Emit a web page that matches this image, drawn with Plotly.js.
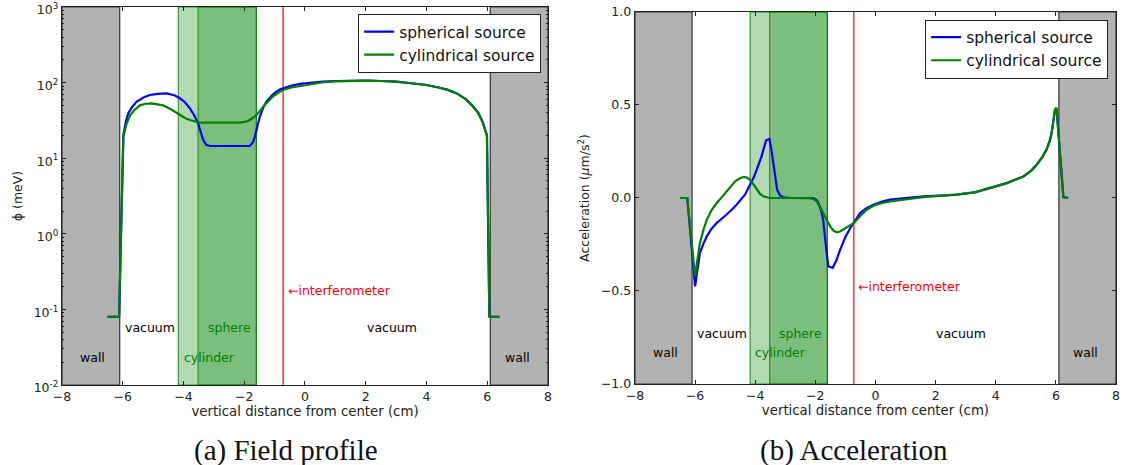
<!DOCTYPE html>
<html>
<head>
<meta charset="utf-8">
<script src="https://cdn.plot.ly/plotly-3.0.1.min.js"></script>
<style>
  html, body { margin: 0; padding: 0; background: #fff; }
  #chart { width: 1125px; height: 465px; }
</style>
</head>
<body>
<div id="chart"></div>
<script>
// ---- field profile phi (meV) vs vertical position (cm) ----
const phiXSpherical = [-6.5, -6.12, -5.98, -5.9, -5.82, -5.7, -5.54, -5.3, -5.11, -4.85, -4.56, -4.3, -4.12, -3.95, -3.79, -3.65, -3.52, -3.44, -3.35, -3.25, -3.13, -2.5, -1.82, -1.72, -1.65, -1.57, -1.49, -1.38, -1.27, -1.1, -0.94, -0.8, -0.61, -0.4, -0.17, 0.2, 0.6, 1.0, 1.5, 2.0, 2.5, 3.0, 3.5, 4.0, 4.4, 4.7, 5.0, 5.3, 5.5, 5.7, 5.85, 5.99, 6.07, 6.4];
const phiSpherical = [0.08, 0.08, 20, 30, 39, 47, 56, 64, 68.6, 71, 72, 68, 62, 55, 45.7, 37, 29, 22, 17.4, 15, 14.5, 14.5, 14.5, 16, 19.3, 26, 35, 46, 56, 67, 76, 82, 87, 92, 96, 100, 103, 105, 106, 106, 105, 103, 98, 93, 86, 80, 72, 60, 50, 40, 30, 20, 0.08, 0.08];

const phiXCylindrical = [-6.5, -6.12, -5.98, -5.88, -5.76, -5.6, -5.43, -5.25, -5.05, -4.85, -4.67, -4.4, -4.12, -3.95, -3.79, -3.6, -3.46, -2.8, -2.14, -1.95, -1.82, -1.7, -1.6, -1.48, -1.38, -1.2, -1.05, -0.88, -0.72, -0.45, -0.17, 0.2, 0.6, 1.0, 1.5, 2.0, 2.5, 3.0, 3.5, 4.0, 4.4, 4.7, 5.0, 5.3, 5.5, 5.7, 5.85, 5.99, 6.07, 6.4];
const phiCylindrical = [0.08, 0.08, 19.3, 28, 37, 44, 50, 52.5, 53, 52, 50, 44, 37, 34, 32, 30.3, 29.5, 29.5, 29.5, 30.5, 32, 34.5, 37, 42, 48, 57, 66, 73, 80, 86, 90, 96, 101, 104, 106, 106, 105, 103, 98, 93, 86, 80, 72, 60, 50, 40, 30, 20, 0.08, 0.08];

// ---- acceleration (um/s^2) vs vertical position (cm) ----
const accXSpherical = [-6.5, -6.26, -6.0, -5.92, -5.84, -5.72, -5.61, -5.45, -5.28, -5.1, -4.95, -4.78, -4.62, -4.48, -4.34, -4.17, -4.05, -3.95, -3.79, -3.64, -3.53, -3.46, -3.4, -3.33, -3.27, -3.18, -3.05, -2.84, -2.07, -1.97, -1.9, -1.82, -1.74, -1.66, -1.57, -1.42, -1.3, -1.18, -1.0, -0.85, -0.72, -0.515, -0.3, -0.07, 0.2, 0.48, 1.0, 1.59, 2.2, 2.7, 3.3, 3.81, 4.37, 4.92, 5.2, 5.36, 5.55, 5.69, 5.8, 5.86, 5.93, 5.97, 6.02, 6.25, 6.41];
const accSpherical = [0, 0, -0.475, -0.37, -0.296, -0.245, -0.206, -0.165, -0.134, -0.11, -0.09, -0.063, -0.036, -0.01, 0.018, 0.072, 0.11, 0.152, 0.224, 0.31, 0.317, 0.26, 0.188, 0.11, 0.045, 0.015, 0.003, 0, -0.001, -0.01, -0.027, -0.06, -0.117, -0.24, -0.367, -0.376, -0.335, -0.28, -0.21, -0.165, -0.135, -0.081, -0.055, -0.036, -0.02, -0.009, 0.0, 0.009, 0.013, 0.018, 0.03, 0.054, 0.08, 0.116, 0.15, 0.179, 0.22, 0.26, 0.31, 0.35, 0.42, 0.475, 0.484, 0.005, 0];

const accXCylindrical = [-6.5, -6.26, -6.0, -5.92, -5.84, -5.72, -5.61, -5.45, -5.28, -5.1, -4.95, -4.8, -4.67, -4.52, -4.39, -4.28, -4.17, -4.05, -3.95, -3.84, -3.73, -3.6, -3.51, -2.18, -2.06, -1.96, -1.85, -1.74, -1.62, -1.51, -1.4, -1.29, -1.18, -1.07, -0.95, -0.85, -0.72, -0.5, -0.29, -0.07, 0.2, 0.48, 1.0, 1.59, 2.2, 2.7, 3.3, 3.81, 4.37, 4.92, 5.2, 5.36, 5.55, 5.69, 5.8, 5.86, 5.93, 5.97, 6.02, 6.25, 6.41];
const accCylindrical = [0, 0, -0.42, -0.32, -0.242, -0.17, -0.117, -0.065, -0.027, 0.006, 0.036, 0.065, 0.09, 0.105, 0.113, 0.11, 0.098, 0.072, 0.045, 0.022, 0.009, 0.002, 0, 0, -0.006, -0.018, -0.045, -0.08, -0.12, -0.152, -0.175, -0.185, -0.18, -0.17, -0.16, -0.149, -0.135, -0.095, -0.063, -0.042, -0.028, -0.018, -0.006, 0.005, 0.013, 0.018, 0.03, 0.054, 0.08, 0.116, 0.15, 0.179, 0.22, 0.26, 0.31, 0.35, 0.42, 0.475, 0.484, 0.005, 0];

// ---- geometry of the setup (cm) ----
const wallInner = 6.1;
const cylinderEdges = [-4.17, -1.6];
const sphereEdges = [-3.52, -1.6];
const interferometerX = -0.72;

// ---- region labels: [text, x, y on field axis, y on acceleration axis, colour] ----
const regionLabels = [
  ['wall', -6.98, 0.023, -0.83, '#000'],
  ['vacuum', -5.1, 0.058, -0.73, '#000'],
  ['sphere', -2.48, 0.058, -0.73, 'green'],
  ['cylinder', -3.15, 0.023, -0.83, 'green'],
  ['vacuum', 2.85, 0.058, -0.73, '#000'],
  ['wall', 7.0, 0.023, -0.83, '#000']
];
const interferometerLabelY = [0.18, -0.475];

const seriesNames = ['spherical source', 'cylindrical source'];
const seriesColors = ['#0000ff', '#008000'];

const xTicks = [-8, -6, -4, -2, 0, 2, 4, 6, 8];
const phiTickVals = [0.01, 0.1, 1, 10, 100, 1000];
const phiTickText = ['10<sup>-2</sup>', '10<sup>-1</sup>', '10<sup>0</sup>', '10<sup>1</sup>', '10<sup>2</sup>', '10<sup>3</sup>'];

const FONT = 'DejaVu Sans, sans-serif';
const SERIF = 'Liberation Serif, serif';

const traces = [
  { x: phiXSpherical, y: phiSpherical, name: seriesNames[0], xaxis: 'x', yaxis: 'y', legend: 'legend',
    mode: 'lines', line: { color: seriesColors[0], width: 2.2 } },
  { x: phiXCylindrical, y: phiCylindrical, name: seriesNames[1], xaxis: 'x', yaxis: 'y', legend: 'legend',
    mode: 'lines', line: { color: seriesColors[1], width: 2.2 } },
  { x: accXSpherical, y: accSpherical, name: seriesNames[0], xaxis: 'x2', yaxis: 'y2', legend: 'legend2',
    mode: 'lines', line: { color: seriesColors[0], width: 2.2 } },
  { x: accXCylindrical, y: accCylindrical, name: seriesNames[1], xaxis: 'x2', yaxis: 'y2', legend: 'legend2',
    mode: 'lines', line: { color: seriesColors[1], width: 2.2 } }
];

function regionShapes(xr, yr) {
  const ydom = yr + ' domain';
  return [
    { type: 'rect', xref: xr, yref: ydom, x0: -8, x1: -wallInner, y0: 0, y1: 1,
      fillcolor: '#b2b2b2', line: { color: '#333', width: 1.2 }, layer: 'below' },
    { type: 'rect', xref: xr, yref: ydom, x0: wallInner, x1: 8, y0: 0, y1: 1,
      fillcolor: '#b2b2b2', line: { color: '#333', width: 1.2 }, layer: 'below' },
    { type: 'rect', xref: xr, yref: ydom, x0: cylinderEdges[0], x1: cylinderEdges[1], y0: 0, y1: 1,
      fillcolor: 'rgba(0,128,0,0.3)', line: { color: 'rgba(0,128,0,0.75)', width: 1.2 }, layer: 'below' },
    { type: 'rect', xref: xr, yref: ydom, x0: sphereEdges[0], x1: sphereEdges[1], y0: 0, y1: 1,
      fillcolor: 'rgba(0,128,0,0.3)', line: { color: 'rgba(0,128,0,0.75)', width: 1.2 }, layer: 'below' },
    { type: 'line', xref: xr, yref: ydom, x0: interferometerX, x1: interferometerX, y0: 0, y1: 1,
      line: { color: '#ff0000', width: 1.2 }, layer: 'below' }
  ];
}

function regionAnnotations(xr, yr, yIndex, yLog) {
  const out = regionLabels.map(r => ({
    xref: xr, yref: yr, x: r[1], y: yLog ? Math.log10(r[yIndex]) : r[yIndex],
    xanchor: 'center', yanchor: 'middle',
    text: r[0], showarrow: false, font: { family: FONT, size: 12.5, color: r[4] }
  }));
  const iy = interferometerLabelY[yIndex - 2];
  out.push({
    xref: xr, yref: yr, x: interferometerX + 0.08, y: yLog ? Math.log10(iy) : iy,
    text: '←interferometer', showarrow: false, xanchor: 'left', yanchor: 'middle',
    font: { family: FONT, size: 12.5, color: '#ff0000' }
  });
  return out;
}

const axisBase = {
  showline: true, linecolor: '#222', linewidth: 1.2, mirror: 'allticks',
  ticks: 'inside', ticklen: 4, tickcolor: '#222', showgrid: false, zeroline: false,
  ticklabeloverflow: 'allow',
  tickfont: { family: FONT, size: 12.5, color: '#222' }
};

const xTitle = { text: 'vertical distance from center (cm)', font: { family: FONT, size: 13.3, color: '#222' }, standoff: 3 };

const layout = {
  width: 1125, height: 465,
  margin: { l: 0, r: 0, t: 0, b: 0 },
  paper_bgcolor: '#fff', plot_bgcolor: '#fff',
  showlegend: true,
  xaxis: Object.assign({}, axisBase, {
    domain: [0.0551, 0.4871], range: [-8, 8], tickvals: xTicks, anchor: 'y', title: xTitle
  }),
  yaxis: Object.assign({}, axisBase, {
    domain: [0.172, 0.985], type: 'log', range: [-2, 3], anchor: 'x',
    tickvals: phiTickVals, ticktext: phiTickText, ticklabelshift: 3,
    minor: { dtick: 'D1', ticks: 'inside', ticklen: 2, tickcolor: '#222' },
    title: { text: 'ϕ (meV)', font: { family: FONT, size: 12.5, color: '#222' }, standoff: 8 }
  }),
  xaxis2: Object.assign({}, axisBase, {
    domain: [0.5644, 0.992], range: [-8, 8], tickvals: xTicks, anchor: 'y2', title: xTitle
  }),
  yaxis2: Object.assign({}, axisBase, {
    domain: [0.1742, 0.9742], range: [-1, 1], dtick: 0.5, tickformat: '.1f', anchor: 'x2',
    title: { text: 'Acceleration (<i>μ</i>m/s<sup>2</sup>)', font: { family: FONT, size: 12.5, color: '#222' }, standoff: 8 }
  }),
  legend: {
    x: 0.481, y: 0.97, xanchor: 'right', yanchor: 'top',
    bgcolor: '#fff', bordercolor: '#222', borderwidth: 1, itemwidth: 30,
    font: { family: FONT, size: 15.5, color: '#111' }, tracegroupgap: 0
  },
  legend2: {
    x: 0.985, y: 0.958, xanchor: 'right', yanchor: 'top',
    bgcolor: '#fff', bordercolor: '#222', borderwidth: 1, itemwidth: 30,
    font: { family: FONT, size: 15.5, color: '#111' }, tracegroupgap: 0
  },
  shapes: regionShapes('x', 'y').concat(regionShapes('x2', 'y2')),
  annotations: regionAnnotations('x', 'y', 2, true)
    .concat(regionAnnotations('x2', 'y2', 3, false))
    .concat([
      { xref: 'paper', yref: 'paper', x: 286 / 1125, y: 1 - 450 / 465, xanchor: 'center', yanchor: 'middle',
        text: '(a) Field profile', showarrow: false, font: { family: SERIF, size: 29, color: '#111' } },
      { xref: 'paper', yref: 'paper', x: 854 / 1125, y: 1 - 450 / 465, xanchor: 'center', yanchor: 'middle',
        text: '(b) Acceleration', showarrow: false, font: { family: SERIF, size: 29, color: '#111' } }
    ])
};

Plotly.newPlot('chart', traces, layout, { staticPlot: true, displayModeBar: false });
</script>
</body>
</html>
